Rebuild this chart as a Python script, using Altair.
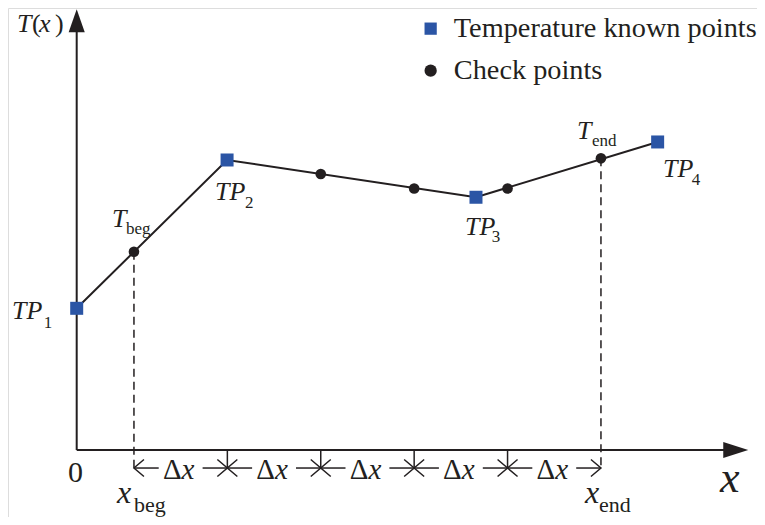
import altair as alt
import pandas as pd

# ---------------- data (diagram units: 1 unit = one Δx step) ----------------
kinds = ["Temperature known points", "Check points"]
tp_x = [0.0, 1.61, 4.275, 6.22]          # temperature known points TP1..TP4
tp_y = [1.517, 3.105, 2.706, 3.298]
cp_x = [0.613, 2.613, 3.613, 4.613, 5.613]   # check points (T_beg ... T_end)
cp_y = [2.123, 2.955, 2.80, 2.80, 3.123]
step_bounds = [0.613, 1.613, 2.613, 3.613, 4.613, 5.613]  # x_beg ... x_end
x_axis_end = 7.19
y_axis_end = 4.72

# ---------------- layout / style ----------------
W, H = 749, 509
PX = 93.4                      # pixels per diagram unit
ORIGIN_X, ORIGIN_Y = 68.7, 442.0
xmin = -ORIGIN_X / PX
xmax = xmin + W / PX
ymax = ORIGIN_Y / PX
ymin = ymax - H / PX
BLACK = "#231f20"
BLUE = "#2b55a5"
FONT = "Liberation Serif, Tinos, DejaVu Serif, Noto Serif, serif"
ROW_Y = -0.193                 # Δx dimension row
GAP = 0.235                    # half gap for the Δx label

xs = alt.Scale(domain=[xmin, xmax], nice=False, zero=False)
ys = alt.Scale(domain=[ymin, ymax], nice=False, zero=False)


def X(f):
    return alt.X(f, type="quantitative", scale=xs, axis=None)


def Y(f):
    return alt.Y(f, type="quantitative", scale=ys, axis=None)


# axes lines
axes_df = pd.DataFrame({"x": [0, 0], "x2": [x_axis_end - 0.15, 0],
                        "y": [0, 0], "y2": [0, y_axis_end - 0.15]})
axes = alt.Chart(axes_df).mark_rule(color=BLACK, strokeWidth=2).encode(
    x=X("x"), x2="x2", y=Y("y"), y2="y2")

xarrow = alt.Chart(pd.DataFrame({"x": [x_axis_end], "y": [0]})).mark_point(
    shape="M0,0L-2,-0.64L-2,0.64Z", size=625, filled=True, opacity=1,
    color=BLACK, strokeWidth=0).encode(x=X("x"), y=Y("y"))
yarrow = alt.Chart(pd.DataFrame({"x": [0], "y": [y_axis_end]})).mark_point(
    shape="M0,0L0.7,2L-0.7,2Z", size=529, filled=True, opacity=1,
    color=BLACK, strokeWidth=0).encode(x=X("x"), y=Y("y"))

# dashed drop lines at x_beg and x_end
drop_df = pd.DataFrame({"x": [cp_x[0], cp_x[-1]], "y": [cp_y[0], cp_y[-1]],
                        "y2": [ROW_Y - 0.02, ROW_Y - 0.02]})
drops = alt.Chart(drop_df).mark_rule(color=BLACK, strokeWidth=1.5,
                                     strokeDash=[8, 5]).encode(
    x=X("x"), y=Y("y"), y2="y2")

# ticks at inner step boundaries
tick_df = pd.DataFrame({"x": step_bounds[1:-1], "y": 0.0, "y2": ROW_Y})
ticks = alt.Chart(tick_df).mark_rule(color=BLACK, strokeWidth=1.5).encode(
    x=X("x"), y=Y("y"), y2="y2")

# Δx dimension segments
segs = []
for a, c in zip(step_bounds[:-1], step_bounds[1:]):
    m = (a + c) / 2
    segs.append({"x": a, "x2": m - GAP, "y": ROW_Y})
    segs.append({"x": m + GAP, "x2": c, "y": ROW_Y})
seg_df = pd.DataFrame(segs)
seg_lines = alt.Chart(seg_df).mark_rule(color=BLACK, strokeWidth=1.5).encode(
    x=X("x"), x2="x2", y=Y("y"))

right_heads = alt.Chart(pd.DataFrame({"x": step_bounds[1:], "y": ROW_Y})).mark_point(
    shape="M-1,-0.85L0,0L-1,0.85", size=400, filled=False, opacity=1,
    color=BLACK, strokeWidth=1.5).encode(x=X("x"), y=Y("y"))
left_heads = alt.Chart(pd.DataFrame({"x": step_bounds[:-1], "y": ROW_Y})).mark_point(
    shape="M1,-0.85L0,0L1,0.85", size=400, filled=False, opacity=1,
    color=BLACK, strokeWidth=1.5).encode(x=X("x"), y=Y("y"))

# temperature profile line
tp_df = pd.DataFrame({"x": tp_x, "y": tp_y, "kind": kinds[0]})
cp_df = pd.DataFrame({"x": cp_x, "y": cp_y, "kind": kinds[1]})
profile = alt.Chart(tp_df).mark_line(color=BLACK, strokeWidth=2).encode(
    x=X("x"), y=Y("y"), order="x:Q")

legend = alt.Legend(title=None, orient="none", legendX=408.5, legendY=6.5,
                    labelFont=FONT, labelFontSize=28.3, labelColor=BLACK,
                    labelOffset=9, rowPadding=13, padding=0, labelLimit=600,
                    symbolSize=150, symbolStrokeWidth=0)
color_enc = alt.Color("kind:N", scale=alt.Scale(domain=kinds, range=[BLUE, BLACK]),
                      legend=legend)
shape_enc = alt.Shape("kind:N", scale=alt.Scale(domain=kinds, range=["square", "circle"]),
                      legend=legend)

squares = alt.Chart(tp_df).mark_point(filled=True, opacity=1, size=169).encode(
    x=X("x"), y=Y("y"), color=color_enc, shape=shape_enc)
circles = alt.Chart(cp_df).mark_point(filled=True, opacity=1, size=113).encode(
    x=X("x"), y=Y("y"), color=color_enc, shape=shape_enc)

# ---------------- annotation texts ----------------
mids = [(a + c) / 2 for a, c in zip(step_bounds[:-1], step_bounds[1:])]
italic_rows = [
    ("T", -0.639, 4.475, 26), ("x", -0.404, 4.475, 26),
    ("TP", -0.693, 1.403, 26), ("TP", 1.481, 2.677, 26),
    ("TP", 4.157, 2.302, 26), ("TP", 6.277, 2.923, 26),
    ("T", 0.378, 2.388, 26), ("T", 5.357, 3.330, 26),
    ("x", 0.431, -0.567, 32), ("x", 5.442, -0.567, 32),
    ("x", 6.888, -0.450, 44),
] + [("x", m + 0.01, -0.310, 29) for m in mids]
upright_rows = [
    ("(", -0.479, 4.475, 26), (")", -0.232, 4.475, 26),
    ("0", -0.093, -0.343, 30),
    ("1", -0.352, 1.306, 17), ("2", 1.801, 2.591, 17),
    ("3", 4.445, 2.227, 17), ("4", 6.586, 2.837, 17),
    ("beg", 0.527, 2.313, 17), ("end", 5.517, 3.255, 17),
    ("beg", 0.613, -0.664, 22), ("end", 5.592, -0.664, 22),
] + [("Δ", m - 0.19, -0.310, 29) for m in mids]

it_df = pd.DataFrame(italic_rows, columns=["t", "x", "y", "fs"])
up_df = pd.DataFrame(upright_rows, columns=["t", "x", "y", "fs"])

it_text = alt.Chart(it_df).mark_text(font=FONT, fontStyle="italic", align="left",
                                     baseline="alphabetic", color=BLACK).encode(
    x=X("x"), y=Y("y"), text="t:N", size=alt.Size("fs:Q", scale=None))
up_text = alt.Chart(up_df).mark_text(font=FONT, align="left",
                                     baseline="alphabetic", color=BLACK).encode(
    x=X("x"), y=Y("y"), text="t:N", size=alt.Size("fs:Q", scale=None))

chart = alt.layer(
    axes, xarrow, yarrow, drops, ticks, seg_lines, right_heads, left_heads,
    profile, squares, circles, it_text, up_text
).properties(
    width=W, height=H, padding=0, autosize=alt.AutoSizeParams(type="none")
).configure_view(stroke=None).configure(background="white")

chart.save("out.html", embed_options={"renderer": "svg", "actions": False})
